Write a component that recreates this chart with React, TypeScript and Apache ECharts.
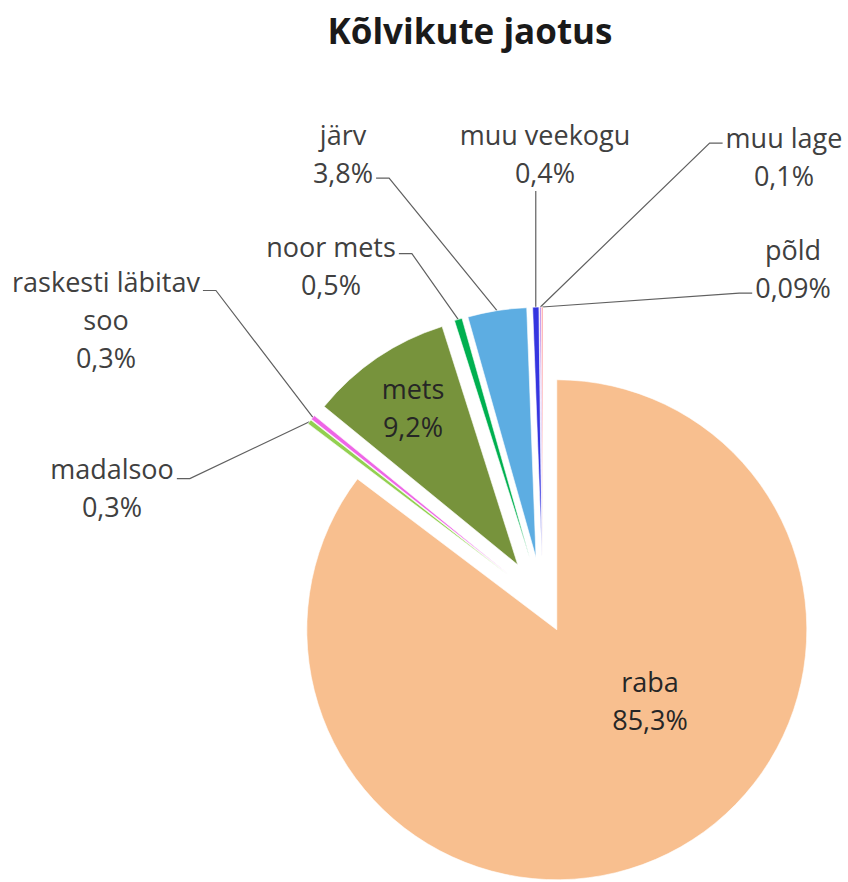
import React, { useEffect, useRef } from 'react';
import * as echarts from 'echarts';

// ---- data ----
const categories = ['raba', 'madalsoo', 'raskesti läbitav\nsoo', 'mets', 'noor mets', 'järv', 'muu veekogu', 'muu lage', 'põld'];
const values = [85.3, 0.3, 0.3, 9.2, 0.5, 3.8, 0.4, 0.1, 0.09];
const valueLabels = ['85,3%', '0,3%', '0,3%', '9,2%', '0,5%', '3,8%', '0,4%', '0,1%', '0,09%'];
const titleText = 'Kõlvikute jaotus';

// ---- styles / layout ----
const colors = ['#F8BF8F', '#92D050', '#EE66E6', '#77933C', '#00B050', '#5DADE2', '#3535E0', '#B07CE8', '#FF7C80'];
// slice explosion distance (px) along each slice's bisector
const explodeDist = [31, 45, 45, 45, 45, 45, 45, 45, 45];
const CX = 543, CY = 602, R = 250;
const FONT = '"Open Sans"';
const labelCenters: number[][] = [[650, 700], [112, 487], [106, 319], [413, 407], [331, 265], [343, 153], [545, 153], [784, 156], [793, 268]];
const labelAttach: any[] = [null, ['right', 0.39], ['right', 0.25], null, ['right', 0.35], ['right', 0.83], ['bottom', 1], ['left', 0.33], ['left', 0.83]];

export default function App() {
  const ref = useRef<HTMLDivElement>(null);
  useEffect(() => {
    if (!ref.current) return;
    const chart = echarts.init(ref.current, undefined, { renderer: 'svg' });
    const total = values.reduce((a, b) => a + b, 0);
    let cum = 0;
    const mids = values.map((v) => {
      const m = ((cum + v / 2) / total) * 2 * Math.PI;
      cum += v;
      return m;
    });
    const series = values.map((_, k) => {
      const off = explodeDist[k];
      const cx = CX + off * Math.sin(mids[k]);
      const cy = CY - off * Math.cos(mids[k]);
      const inside = !labelAttach[k];
      return {
        type: 'pie',
        center: [cx, cy],
        radius: R,
        startAngle: 90,
        clockwise: true,
        avoidLabelOverlap: false,
        silent: true,
        emphasis: { disabled: true },
        data: values.map((v, i) => ({
          name: categories[i],
          value: v,
          itemStyle: i === k
            ? { color: colors[i], borderColor: '#ffffff', borderWidth: 0.6 }
            : { color: 'rgba(0,0,0,0)', borderWidth: 0 },
          label: i === k ? { show: true, position: inside ? 'inside' : 'outside' } : { show: false },
          labelLine: { show: i === k && !inside },
        })),
        label: {
          formatter: (p: any) => categories[p.dataIndex] + '\n' + valueLabels[p.dataIndex],
          fontFamily: FONT,
          fontSize: 27,
          lineHeight: 38,
          color: inside ? '#262626' : '#404040',
        },
        labelLine: { lineStyle: { color: '#606060', width: 1.2 } },
        labelLayout: (params: any) => {
          if (params.dataIndex !== k) return {};
          const [lx, ly] = labelCenters[k];
          const res: any = { x: lx, y: ly, align: 'center', verticalAlign: 'middle' };
          const att = labelAttach[k];
          if (att && params.labelLinePoints && params.labelLinePoints.length) {
            const w = params.labelRect.width;
            const h = params.labelRect.height;
            const p0 = params.labelLinePoints[0];
            const top = ly - h / 2;
            if (att[0] === 'right') {
              const end = [lx + w / 2 + 3, top + h * att[1]];
              res.labelLinePoints = [p0, [end[0] + 13, end[1]], end];
            } else if (att[0] === 'left') {
              const end = [lx - w / 2 - 3, top + h * att[1]];
              res.labelLinePoints = [p0, [end[0] - 13, end[1]], end];
            } else {
              const end = [p0[0], ly + h / 2];
              res.labelLinePoints = [p0, [p0[0], (p0[1] + end[1]) / 2], end];
            }
          }
          return res;
        },
      };
    });
    chart.setOption({
      animation: false,
      backgroundColor: '#ffffff',
      graphic: [
        {
          type: 'text',
          x: 470,
          y: 30,
          style: {
            text: titleText,
            align: 'center',
            verticalAlign: 'middle',
            font: `bold 35px ${FONT}`,
            fill: '#1a1a1a',
          },
        },
      ],
      series,
    });
    return () => chart.dispose();
  }, []);
  return <div ref={ref} style={{ position: 'fixed', left: 0, top: 0, width: 848, height: 882 }} />;
}
